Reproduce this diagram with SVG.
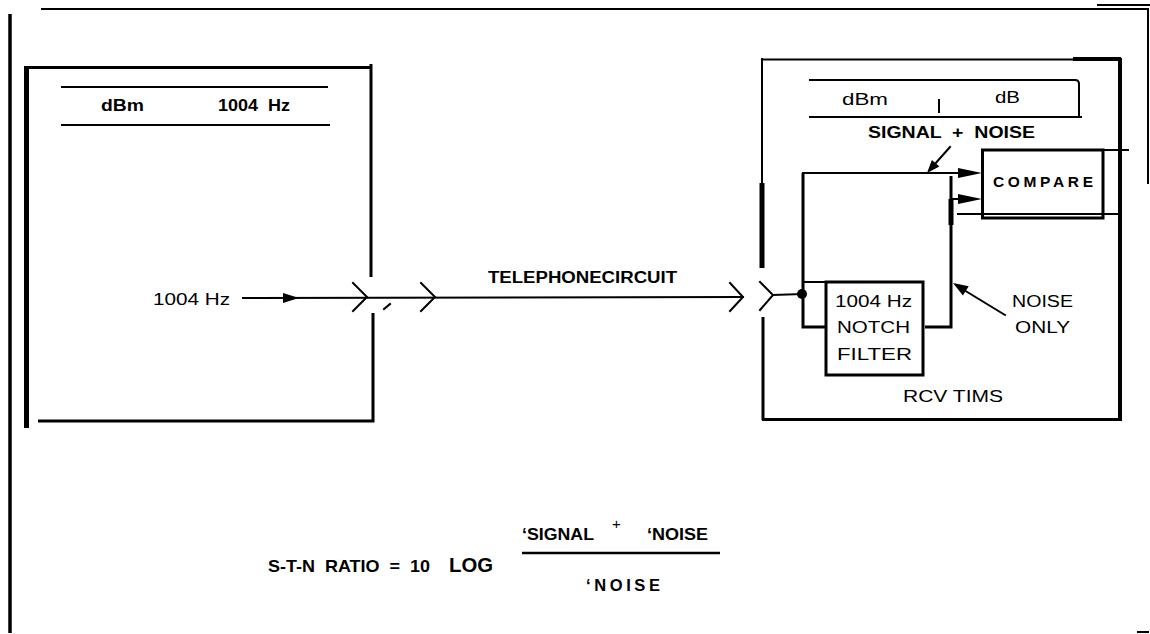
<svg xmlns="http://www.w3.org/2000/svg" width="1150" height="634" viewBox="0 0 1150 634">
<style>
.ln{stroke:#000;stroke-width:2;fill:none;stroke-linecap:square}
.th{stroke:#000;stroke-width:5;fill:none}
.md{stroke:#000;stroke-width:3;fill:none}
.b{font-family:"Liberation Sans",Arial,sans-serif;font-weight:bold;fill:#000}
.n{font-family:"Liberation Sans",Arial,sans-serif;font-weight:normal;fill:#000}
.ah{fill:#000;stroke:none}
</style>
<rect width="1150" height="634" fill="#fff"/>
<g id="page-border">
<line class="ln" x1="42" y1="9" x2="1148" y2="9"/>
<line class="ln" x1="1098" y1="5" x2="1150" y2="5"/>
<line class="ln" x1="1148" y1="9" x2="1148" y2="183" stroke="#555"/>
<line x1="10" y1="14" x2="10" y2="633" stroke="#000" stroke-width="3.5"/>
<line class="ln" x1="1138" y1="632" x2="1148" y2="632"/>
</g>
<g id="send-tims">
<line class="th" x1="26.5" y1="66" x2="26.5" y2="428"/>
<line x1="25" y1="67.5" x2="372" y2="67.5" stroke="#000" stroke-width="3"/>
<line class="md" x1="371" y1="64" x2="371" y2="277"/>
<path class="md" d="M373,313 V421 H38"/>
<line class="ln" x1="62" y1="87" x2="327" y2="87"/>
<line class="ln" x1="62" y1="125" x2="329" y2="125"/>
<text class="b" x="101" y="111" font-size="16" textLength="43" lengthAdjust="spacingAndGlyphs">dBm</text>
<text class="b" x="218" y="111" font-size="16" textLength="72" lengthAdjust="spacingAndGlyphs" xml:space="preserve">1004  Hz</text>
<text class="n" x="153" y="305" font-size="16" textLength="77" lengthAdjust="spacingAndGlyphs">1004 Hz</text>
</g>
<g id="connectors">
<line class="ln" x1="243" y1="298" x2="743" y2="297"/>
<polygon class="ah" points="283,293 299,298 283,303"/>
<path class="ln" stroke-width="2.5" d="M353,283 L367,297 L353,311"/>
<line class="ln" x1="384" y1="309" x2="390" y2="304"/>
<path class="ln" stroke-width="2.5" d="M421,283 L435,297 L421,311"/>
<path class="ln" stroke-width="2.5" d="M730,283 L743,297 L730,311"/>
<path class="ln" stroke-width="2.5" d="M760,282 L773,295 L760,310"/>
<line class="ln" x1="773" y1="295" x2="802" y2="294"/>
<circle cx="802" cy="294" r="5" fill="#000"/>
<path class="md" d="M803,173 V327 H826"/>
<line class="ln" x1="803" y1="282" x2="826" y2="282"/>
<line class="ln" x1="803" y1="173" x2="960" y2="173"/>
<polygon class="ah" points="958,168 982,173 958,178"/>
<path class="md" d="M925,327 H951 V176"/>
<line x1="951" y1="199" x2="951" y2="225" stroke="#000" stroke-width="5"/>
<line class="ln" x1="951" y1="199" x2="960" y2="199"/>
<polygon class="ah" points="958,194 982,199 958,204"/>
<line class="ln" x1="950" y1="147" x2="934" y2="165"/>
<polygon class="ah" points="927,173 939.4,166.5 931.9,159.9"/>
<line class="ln" x1="1005" y1="315" x2="964" y2="290"/>
<polygon class="ah" points="953,283 968.7,286.2 962.9,295.6"/>
<text class="b" x="488" y="283" font-size="16" textLength="189" lengthAdjust="spacingAndGlyphs">TELEPHONECIRCUIT</text>
<text class="b" x="868" y="138" font-size="16" textLength="167" lengthAdjust="spacingAndGlyphs" xml:space="preserve">SIGNAL  +  NOISE</text>
<text class="n" x="1012" y="307" font-size="16" textLength="61" lengthAdjust="spacingAndGlyphs">NOISE</text>
<text class="n" x="1015" y="333" font-size="16" textLength="55" lengthAdjust="spacingAndGlyphs">ONLY</text>
</g>
<g id="rcv-tims">
<line class="ln" x1="762" y1="59.5" x2="1120" y2="59.5"/>
<line x1="1073" y1="59" x2="1121" y2="59" stroke="#000" stroke-width="4"/>
<line class="ln" x1="762" y1="59" x2="762" y2="183"/>
<line x1="762" y1="183" x2="762" y2="268" stroke="#000" stroke-width="5"/>
<line class="md" x1="763" y1="317" x2="763" y2="420"/>
<line x1="1120" y1="58" x2="1120" y2="421" stroke="#000" stroke-width="4"/>
<line class="md" x1="762" y1="419.5" x2="1122" y2="419.5"/>
<path class="ln" d="M810,80 H1075 Q1079,80 1079,84 V116"/>
<line class="ln" x1="810" y1="117" x2="1081" y2="117"/>
<line class="ln" x1="939" y1="100" x2="939" y2="112"/>
<text class="n" x="842" y="105" font-size="16" textLength="46" lengthAdjust="spacingAndGlyphs">dBm</text>
<text class="n" x="995" y="103" font-size="16" textLength="25" lengthAdjust="spacingAndGlyphs">dB</text>
<text class="n" x="903" y="402" font-size="16" textLength="100" lengthAdjust="spacingAndGlyphs">RCV TIMS</text>
</g>
<g id="compare">
<rect class="md" x="982.5" y="150" width="120.5" height="68"/>
<line class="ln" x1="1103" y1="150" x2="1128" y2="150"/>
<line class="ln" x1="958" y1="214" x2="1120" y2="214"/>
<text class="b" x="993" y="187" font-size="15.5" textLength="100" lengthAdjust="spacing">COMPARE</text>
</g>
<g id="notch-filter">
<rect class="md" x="826" y="282" width="97" height="93"/>
<text class="n" x="835" y="307" font-size="16" textLength="77" lengthAdjust="spacingAndGlyphs">1004 Hz</text>
<text class="n" x="837" y="333" font-size="16" textLength="73" lengthAdjust="spacingAndGlyphs">NOTCH</text>
<text class="n" x="837" y="360" font-size="16" textLength="75" lengthAdjust="spacingAndGlyphs">FILTER</text>
</g>
<g id="formula">
<text class="b" x="268" y="572" font-size="17" textLength="162" lengthAdjust="spacingAndGlyphs" xml:space="preserve">S-T-N  RATIO  =  10</text>
<text class="b" x="449" y="572" font-size="21" textLength="44" lengthAdjust="spacingAndGlyphs">LOG</text>
<text class="b" x="522" y="540" font-size="17" textLength="72" lengthAdjust="spacingAndGlyphs">‘SIGNAL</text>
<text class="n" x="612" y="529" font-size="15">+</text>
<text class="b" x="647" y="540" font-size="17" textLength="61" lengthAdjust="spacingAndGlyphs">‘NOISE</text>
<line x1="522" y1="553" x2="720" y2="553" stroke="#000" stroke-width="2.5"/>
<text class="b" x="586" y="591" font-size="16.5" textLength="74" lengthAdjust="spacing">‘NOISE</text>
</g>
</svg>
